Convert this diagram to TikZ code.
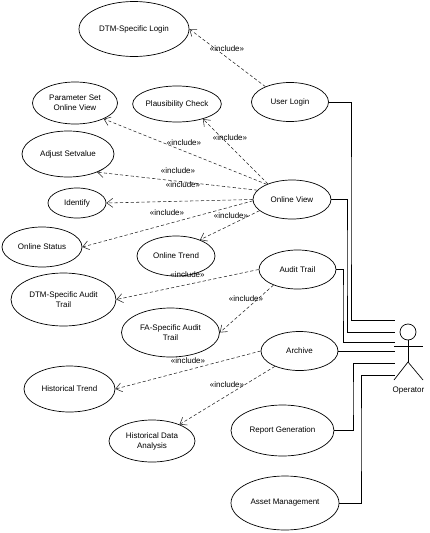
\documentclass[tikz,border=0pt]{standalone}
\usepackage{fontspec}
\setmainfont{Liberation Sans}
\usetikzlibrary{shapes.geometric,arrows.meta}
\tikzset{
  uc/.style 2 args={ellipse,draw=black,line width=0.7pt,inner sep=0pt,align=center,font=\fontsize{8}{10}\selectfont,minimum width=#1,minimum height=#2},
  incl/.style={draw=black!85,line width=0.55pt,dash pattern=on 3.2pt off 2.2pt,-{Straight Barb[length=6pt,width=9pt,line width=0.55pt]}},
  assoc/.style={draw=black,line width=0.8pt},
  lbl/.style={inner sep=0pt,font=\fontsize{8}{9}\selectfont},
  actorpart/.style={draw=black,line width=0.7pt},
  actorhead/.style={circle,draw=black,line width=0.7pt,inner sep=0pt,minimum size=16pt}
}
\begin{document}
\begin{tikzpicture}[x=1pt,y=-1pt]
\useasboundingbox (0,0) rectangle (430,533);
% use cases
\node[uc={110pt}{55pt}] (dtmlogin) at (134,29) {DTM-Specific Login};
\node[uc={85pt}{42pt}] (param) at (75,103) {Parameter Set\\Online View};
\node[uc={75pt}{36pt}] (plaus) at (177,104) {Plausibility Check};
\node[uc={92pt}{46pt}] (adjust) at (68,154) {Adjust Setvalue};
\node[uc={58pt}{30pt}] (identify) at (77,203) {Identify};
\node[uc={80pt}{40pt}] (status) at (42,247) {Online Status};
\node[uc={78pt}{40pt}] (trend) at (176,256) {Online Trend};
\node[uc={77pt}{39pt}] (login) at (290,102) {User Login};
\node[uc={78pt}{39pt}] (view) at (292,199.5) {Online View};
\node[uc={77pt}{39pt}] (audit) at (297.5,269.5) {Audit Trail};
\node[uc={105pt}{53pt}] (dtmaudit) at (63.5,299.5) {DTM-Specific Audit\\Trail};
\node[uc={98pt}{49pt}] (fa) at (170.5,332.5) {FA-Specific Audit\\Trail};
\node[uc={91pt}{46pt}] (histtrend) at (69.5,389) {Historical Trend};
\node[uc={86pt}{42pt}] (histdata) at (152,441) {Historical Data\\Analysis};
\node[uc={77pt}{39pt}] (archive) at (299.5,351) {Archive};
\node[uc={103pt}{51pt}] (report) at (282.5,430.5) {Report Generation};
\node[uc={108pt}{54pt}] (asset) at (285,503) {Asset Management};
% actor
\node[actorhead] (head) at (408,332) {};
\coordinate (neck) at (408,340);
\coordinate (hip) at (408,362);
\coordinate (armL) at (394,346);
\coordinate (armR) at (423,346);
\coordinate (legL) at (394,380);
\coordinate (legR) at (423,380);
\draw[actorpart] (head.south) -- (hip);
\draw[actorpart] (armL) -- (armR);
\draw[actorpart] (legL) -- (hip) -- (legR);
\node[lbl] (operator) at (408.5,391) {Operator};
% actor connection points
\coordinate (op1) at (395,320);
\coordinate (op2) at (395,332);
\coordinate (op3) at (395,342);
\coordinate (op4) at (395,351);
\coordinate (op5) at (395,363);
\coordinate (op6) at (395,375);
% associations
\draw[assoc] (login.east) -| (351,210) |- (op1);
\draw[assoc] (view.east) -| (347,260) |- (op2);
\draw[assoc] (audit.east) -| (343,300) |- (op3);
\draw[assoc] (archive.east) -- (op4);
\draw[assoc] (report.east) -| (353,400) |- (op5);
\draw[assoc] (asset.east) -| (361,440) |- (op6);
% includes
\draw[incl] (login.148) -- (dtmlogin.east);
\draw[incl] (view.149) -- (param.331);
\draw[incl] (view.147) -- (plaus.330);
\draw[incl] (view.165) -- (adjust.328);
\draw[incl] (view.west) -- (identify.east);
\draw[incl] (view.182) -- (status.east);
\draw[incl] (view.199) -- (trend.34);
\draw[incl] (audit.west) -- (dtmaudit.east);
\draw[incl] (audit.213) -- (fa.east);
\draw[incl] (archive.west) -- (histtrend.east);
\draw[incl] (archive.212) -- (histdata.31);
% stereotypes
\node[lbl] (l1) at (227,49) {«include»};
\node[lbl] (l2) at (184,143) {«include»};
\node[lbl] (l3) at (230,138) {«include»};
\node[lbl] (l4) at (178,171) {«include»};
\node[lbl] (l5) at (183,185) {«include»};
\node[lbl] (l6) at (167,213) {«include»};
\node[lbl] (l7) at (231,216) {«include»};
\node[lbl] (l8) at (187.5,275) {«include»};
\node[lbl] (l9) at (246,299) {«include»};
\node[lbl] (l10) at (188,361) {«include»};
\node[lbl] (l11) at (227,385) {«include»};
\end{tikzpicture}
\end{document}
